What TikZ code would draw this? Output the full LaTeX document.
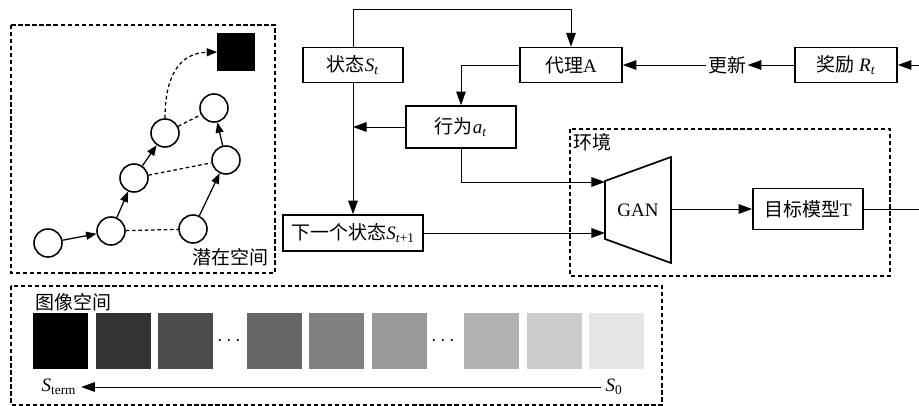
\documentclass[tikz,border=0pt]{standalone}
\usepackage{fontspec}
\setmainfont{Liberation Serif}
\newfontfamily\zh{Noto Sans CJK SC}
\usetikzlibrary{arrows.meta,positioning,calc}
\newcommand{\vsub}[2]{\textit{#1}\textsubscript{#2}}

\begin{document}
\begin{tikzpicture}[
  x=0.025cm,y=-0.025cm,
  font=\fontsize{13.5}{15}\selectfont,
  box/.style={draw,line width=1.2pt,align=center,inner sep=2pt,fill=white,
              minimum height=0.88cm},
  zone/.style={draw,line width=1.1pt,dash pattern=on 3pt off 2pt},
  dot/.style={circle,draw,line width=1.1pt,minimum size=0.7cm,inner sep=0pt},
  tile/.style={minimum width=1.37cm,minimum height=1.4cm,inner sep=0pt},
  flow/.style={-{Triangle[length=3.4mm,width=2.4mm]},line width=0.7pt},
  hop/.style={-{Triangle[length=2.6mm,width=2mm]},line width=0.9pt},
  link/.style={line width=0.9pt,dash pattern=on 2.5pt off 2pt}]

\useasboundingbox (0,0) rectangle (919,406);

% ---- latent space -----------------------------------------------------
\draw[zone] (11,25) rectangle (275,273);
\node[dot] (c1) at (48,243) {};
\node[dot] (c2) at (111,231) {};
\node[dot] (c3) at (134,178) {};
\node[dot] (c4) at (165,133) {};
\node[dot] (c5) at (214,108) {};
\node[dot] (c6) at (226,160) {};
\node[dot] (c7) at (193,229) {};
\node[fill=black,minimum size=0.93cm,inner sep=0pt] (goal) at (236,52) {};
\node[anchor=south east,inner sep=1pt] at (270,268) {\zh 潜在空间};

\draw[hop] (c1) -- (c2);
\draw[hop] (c2) -- (c3);
\draw[hop] (c3) -- (c4);
\draw[hop] (c7) -- (c6);
\draw[hop] (c6) -- (c5);
\draw[link] (c2) -- (c7);
\draw[link] (c3) -- (c6);
\draw[link] (c4) -- (c5);
\draw[hop,link] (c4.north) .. controls (165,75) and (180,53) .. (goal.west);

% ---- agent loop -------------------------------------------------------
\node[box,minimum width=2.5cm] (st) at (353,65) {{\zh 状态}\vsub{S}{\textit{t}}};
\node[box,minimum width=2.55cm] (agent) at (571,65) {{\zh 代理}A};
\node[inner sep=1pt] (upd) at (727,65) {\zh 更新};
\node[box,minimum width=2.55cm] (reward) at (846,65) {{\zh 奖励} \vsub{R}{\textit{t}}};
\node[box,minimum width=2.75cm,minimum height=1.05cm] (act) at (461,127)
  {{\zh 行为}\vsub{a}{\textit{t}}};
\node[box,minimum width=3.5cm,minimum height=0.9cm] (next) at (353,233)
  {{\zh 下一个状态}\vsub{S}{\textit{t}+1}};
\coordinate (rin) at (919,65);

% ---- environment ------------------------------------------------------
\draw[zone] (570,129) rectangle (890,276);
\node[anchor=west,inner sep=1pt] at (572,142) {\zh 环境};
\draw[line width=1.2pt] (605,181) -- (671,157) -- (671,263) -- (605,239) -- cycle;
\node (gan) at (638,210) {GAN};
\coordinate (ganA) at (605,182);
\coordinate (ganB) at (605,233);
\coordinate (ganC) at (671,209);
\node[box,minimum width=2.75cm,minimum height=1.02cm] (target) at (808,209)
  {{\zh 目标模型}T};
\coordinate (rout) at (919,209);

% ---- edges ------------------------------------------------------------
\draw[flow] (st.north) -- (st.north |- 0,9) -| (agent.north);
\draw[flow] (rin) -- (reward);
\draw[flow] (reward) -- (upd);
\draw[flow] (upd) -- (agent);
\draw[flow] (agent.west) -| (act.north);
\draw[flow] (act.west) -- (act.west -| st.south);
\draw[flow] (st) -- (next);
\draw[flow] (act.south) |- (ganA);
\draw[flow] (next) -- (ganB);
\draw[flow] (ganC) -- (target);
\draw[line width=0.7pt] (target) -- (rout);

% ---- image space ------------------------------------------------------
\draw[zone] (11,286) rectangle (662,405);
\node[anchor=west,inner sep=1pt] at (34,302) {\zh 图像空间};
\foreach \n/\x/\g in {1/60.5/100,2/123.5/80,3/185.5/70,4/274.5/60,5/336.5/50,
                      6/399.5/40,7/491.5/30,8/554.5/20,9/616.5/10}
  \node[tile,fill=black!\g] (sq\n) at (\x,341) {};
\node at (229,341) {$\cdots$};
\node at (443,341) {$\cdots$};
\node (sterm) at (59,387) {\vsub{S}{term}};
\node (s0) at (614,387) {\vsub{S}{0}};
\draw[flow] (s0) -- (sterm);
\end{tikzpicture}
\end{document}
